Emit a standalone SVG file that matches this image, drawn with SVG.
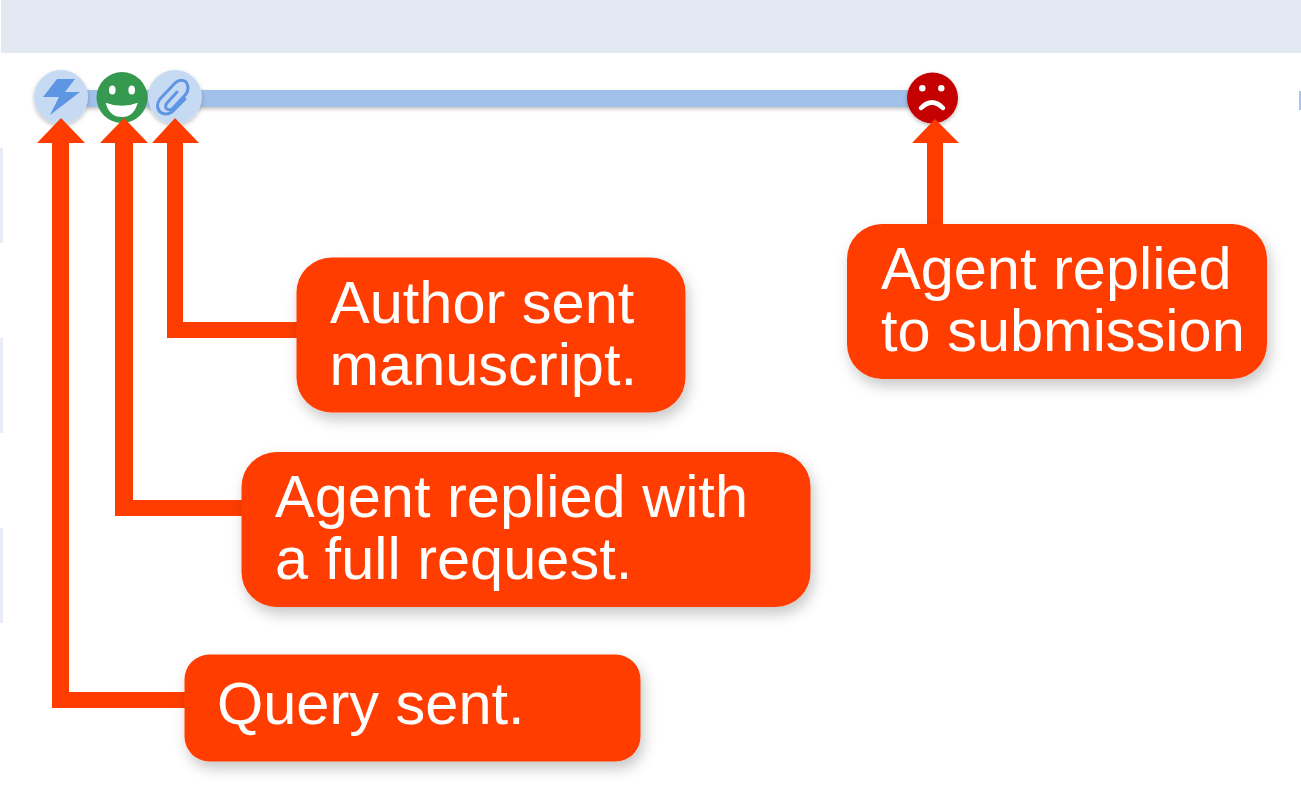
<svg xmlns="http://www.w3.org/2000/svg" width="1301" height="800" viewBox="0 0 1301 800">
<style>
.box{fill:#ff3c04;filter:url(#ds)}
.lbl{font-family:"Liberation Sans",Arial,sans-serif;font-size:59.500px;fill:#fff}
.arr{fill:#ff3c00}
.side{fill:#e8ecf6}
</style>
<defs>
<filter id="ds" x="-10%" y="-15%" width="125%" height="140%"><feDropShadow dx="3" dy="7" stdDeviation="7" flood-color="#000" flood-opacity=".22"/></filter>
<filter id="cs" x="-20%" y="-20%" width="140%" height="150%"><feDropShadow dx="0" dy="2" stdDeviation="2" flood-color="#000" flood-opacity=".25"/></filter>
</defs>
<rect width="1301" height="800" fill="#fff"/>
<rect x="1" y="0" width="1300" height="53" fill="#e3e9f3"/>
<rect class="side" x="0" y="148" width="3" height="95"/>
<rect class="side" x="0" y="338" width="3" height="95"/>
<rect class="side" x="0" y="528" width="3" height="95"/>
<rect x="1299" y="91" width="2" height="19" fill="#a8c4ec"/>
<rect x="85" y="90" width="825" height="17" fill="#a1c0ea" filter="url(#cs)"/>
<g id="node-query-icon">
<circle cx="61" cy="97" r="27" fill="#c7daf3" filter="url(#cs)"/>
<path d="M57 79H75L65 92H80L50 115L59 97H43Z" fill="#5f96e4"/>
</g>
<g id="node-request-icon">
<circle cx="122" cy="97.500" r="25.500" fill="#359a50"/>
<ellipse cx="112.300" cy="90" rx="3.300" ry="4.500" fill="#fff"/>
<ellipse cx="131.700" cy="90" rx="3.300" ry="4.500" fill="#fff"/>
<path d="M105.700 102.700Q122 109 137.700 102.700Q134 117 122 117Q109 117 105.700 102.700Z" fill="#fff"/>
</g>
<g id="node-manuscript-icon">
<circle cx="175" cy="97" r="27" fill="#c7daf3" filter="url(#cs)"/>
<path d="M177 92L167 103Q164 107 167 109Q170 111 173 108L186 94Q190 88 186 82Q181 78 175 83L160 99Q155 106 160 112Q166 116 172 112L185 99" fill="none" stroke="#5f96e4" stroke-width="3" stroke-linecap="round"/>
</g>
<g id="node-reject-icon">
<circle cx="932.500" cy="98" r="25.500" fill="#c40000" filter="url(#cs)"/>
<circle cx="922.300" cy="88.300" r="3.200" fill="#fff"/>
<circle cx="941.300" cy="88.300" r="3.200" fill="#fff"/>
<path d="M921 108Q932 97 943 108" fill="none" stroke="#fff" stroke-width="4.500" stroke-linecap="round"/>
</g>
<g id="connectors" class="arr">
<path d="M61 118L85 143H69V692H185V708H52V143H37Z"/>
<path d="M124 118L148 143H133V500H242V516H115V143H100Z"/>
<path d="M175 118L199 143H183V322H297V338H167V143H152Z"/>
<path d="M935 119L959 143H943V226H927V143H912Z"/>
</g>
<g id="node-manuscript">
<rect class="box" x="296.500" y="257.500" width="389" height="155" rx="35"/>
<text class="lbl" x="330" y="323">Author sent</text>
<text class="lbl" x="329.500" y="385">manuscript.</text>
</g>
<g id="node-request">
<rect class="box" x="241.500" y="452" width="569" height="155" rx="35"/>
<text class="lbl" x="275" y="517">Agent replied with</text>
<text class="lbl" x="275" y="579">a full request.</text>
</g>
<g id="node-query">
<rect class="box" x="184.500" y="654.500" width="456" height="107" rx="25"/>
<text class="lbl" x="217" y="724">Query sent.</text>
</g>
<g id="node-reject">
<rect class="box" x="847" y="224" width="420" height="155" rx="35"/>
<text class="lbl" x="881" y="289">Agent replied</text>
<text class="lbl" x="881" y="351">to submission</text>
</g>
</svg>
